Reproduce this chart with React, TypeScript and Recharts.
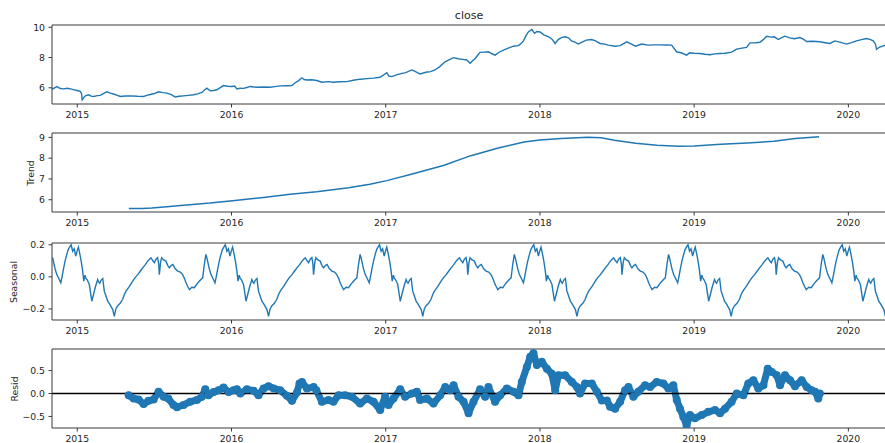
import React from 'react';
import { LineChart, Line, XAxis, YAxis, ReferenceLine } from 'recharts';

// x values are fractional years
const X_DOMAIN: [number, number] = [2014.836, 2020.244];
const yearTicks = [2015, 2016, 2017, 2018, 2019, 2020];

const closeDates = [
  2014.836, 2014.868, 2014.89, 2014.911, 2014.935, 2014.955, 2014.975, 2014.998, 2015.019, 2015.028,
  2015.032, 2015.042, 2015.052, 2015.073, 2015.09, 2015.106, 2015.13, 2015.149, 2015.17, 2015.192,
  2015.215, 2015.235, 2015.26, 2015.279, 2015.31, 2015.343, 2015.39, 2015.43, 2015.45, 2015.473,
  2015.5, 2015.527, 2015.555, 2015.581, 2015.61, 2015.635, 2015.66, 2015.689, 2015.72, 2015.754,
  2015.78, 2015.808, 2015.825, 2015.84, 2015.862, 2015.885, 2015.905, 2015.925, 2015.948, 2015.975,
  2016.002, 2016.02, 2016.035, 2016.055, 2016.078, 2016.1, 2016.121, 2016.145, 2016.165, 2016.21,
  2016.251, 2016.28, 2016.316, 2016.36, 2016.391, 2016.415, 2016.434, 2016.456, 2016.47, 2016.489,
  2016.52, 2016.553, 2016.586, 2016.629, 2016.66, 2016.7, 2016.748, 2016.79, 2016.834, 2016.88,
  2016.92, 2016.964, 2017.007, 2017.02, 2017.04, 2017.07, 2017.093, 2017.13, 2017.169, 2017.19,
  2017.205, 2017.223, 2017.26, 2017.29, 2017.32, 2017.35, 2017.385, 2017.41, 2017.439, 2017.47,
  2017.5, 2017.525, 2017.547, 2017.565, 2017.58, 2017.6, 2017.612, 2017.64, 2017.666, 2017.69,
  2017.709, 2017.735, 2017.763, 2017.795, 2017.828, 2017.86, 2017.875, 2017.893, 2017.91, 2017.925,
  2017.947, 2017.965, 2017.98, 2018.001, 2018.025, 2018.045, 2018.065, 2018.08, 2018.098, 2018.12,
  2018.14, 2018.163, 2018.185, 2018.205, 2018.23, 2018.249, 2018.27, 2018.3, 2018.335, 2018.36,
  2018.39, 2018.42, 2018.443, 2018.487, 2018.52, 2018.563, 2018.59, 2018.62, 2018.66, 2018.7,
  2018.74, 2018.778, 2018.82, 2018.854, 2018.886, 2018.92, 2018.951, 2018.97, 2019.0, 2019.038,
  2019.07, 2019.102, 2019.135, 2019.167, 2019.2, 2019.243, 2019.275, 2019.31, 2019.34, 2019.362,
  2019.4, 2019.426, 2019.45, 2019.47, 2019.5, 2019.52, 2019.545, 2019.565, 2019.588, 2019.62,
  2019.65, 2019.686, 2019.71, 2019.729, 2019.77, 2019.815, 2019.85, 2019.88, 2019.912, 2019.95,
  2019.988, 2020.02, 2020.053, 2020.085, 2020.118, 2020.14, 2020.161, 2020.175, 2020.183, 2020.2,
  2020.22, 2020.244,
];
const closeValues = [
  5.9, 6.08, 5.95, 5.93, 5.97, 5.93, 5.88, 5.82, 5.76, 5.6,
  5.21, 5.35, 5.47, 5.54, 5.45, 5.43, 5.48, 5.5, 5.62, 5.74,
  5.65, 5.59, 5.5, 5.43, 5.46, 5.47, 5.44, 5.43, 5.5, 5.56,
  5.62, 5.74, 5.68, 5.65, 5.55, 5.39, 5.44, 5.47, 5.5, 5.54,
  5.6, 5.69, 5.85, 5.98, 5.8, 5.82, 5.87, 6.0, 6.15, 6.1,
  6.09, 6.12, 5.93, 5.97, 5.96, 6.02, 6.09, 6.05, 6.04, 6.05,
  6.04, 6.08, 6.13, 6.14, 6.15, 6.35, 6.46, 6.66, 6.55, 6.52,
  6.53, 6.48, 6.37, 6.41, 6.37, 6.4, 6.41, 6.5, 6.57, 6.61,
  6.64, 6.7, 7.0, 6.78, 6.74, 6.85, 6.92, 7.0, 7.18, 7.08,
  7.0, 6.92, 7.03, 7.07, 7.18, 7.4, 7.72, 7.85, 7.99, 7.92,
  7.88, 7.84, 7.62, 7.8, 7.94, 8.2, 8.34, 8.36, 8.38, 8.25,
  8.16, 8.35, 8.49, 8.62, 8.75, 8.79, 8.9, 9.1, 9.45, 9.69,
  9.85, 9.6, 9.72, 9.69, 9.5, 9.41, 9.32, 9.2, 8.93, 9.2,
  9.32, 9.37, 9.3, 9.1, 9.0, 8.89, 9.0, 9.15, 9.19, 9.1,
  8.93, 8.89, 8.82, 8.75, 8.79, 9.04, 8.9, 8.75, 8.89, 8.82,
  8.84, 8.84, 8.83, 8.82, 8.38, 8.3, 8.16, 8.31, 8.28, 8.27,
  8.22, 8.18, 8.24, 8.27, 8.28, 8.36, 8.56, 8.62, 8.67, 8.97,
  8.98, 9.01, 9.2, 9.41, 9.35, 9.37, 9.19, 9.3, 9.41, 9.3,
  9.24, 9.32, 9.2, 9.06, 9.08, 9.04, 8.98, 8.93, 9.1, 9.0,
  8.89, 8.98, 9.1, 9.18, 9.26, 9.2, 9.1, 8.9, 8.54, 8.68,
  8.75, 8.84,
];

const trendDates = [
  2015.334, 2015.42, 2015.483, 2015.58, 2015.69, 2015.862, 2016.007, 2016.207, 2016.38, 2016.552,
  2016.759, 2016.897, 2017.007, 2017.172, 2017.379, 2017.552, 2017.724, 2017.897, 2018.0, 2018.138,
  2018.31, 2018.397, 2018.483, 2018.621, 2018.759, 2018.897, 2019.0, 2019.172, 2019.345, 2019.517,
  2019.655, 2019.81,
];
const trendValues = [
  5.58, 5.58, 5.6, 5.66, 5.74, 5.84, 5.95, 6.11, 6.26, 6.38,
  6.58, 6.74, 6.92, 7.24, 7.66, 8.12, 8.48, 8.78, 8.87, 8.95,
  9.0, 8.98, 8.86, 8.72, 8.62, 8.57, 8.59, 8.67, 8.73, 8.81,
  8.95, 9.03,
];

// one yearly cycle of the seasonal component, phase measured from its December peak
const seasonStart = 2014.96;
const seasonPhase = [
  0.0, 0.01, 0.02, 0.03, 0.04, 0.047, 0.055, 0.065, 0.075, 0.082,
  0.09, 0.095, 0.105, 0.118, 0.126, 0.134, 0.145, 0.158, 0.172, 0.18,
  0.185, 0.195, 0.205, 0.215, 0.226, 0.237, 0.25, 0.262, 0.27, 0.28,
  0.29, 0.302, 0.318, 0.334, 0.345, 0.356, 0.378, 0.399, 0.415, 0.432,
  0.448, 0.464, 0.48, 0.497, 0.508, 0.518, 0.53, 0.54, 0.55, 0.561,
  0.568, 0.572, 0.58, 0.587, 0.6, 0.615, 0.627, 0.637, 0.648, 0.66,
  0.675, 0.691, 0.708, 0.723, 0.735, 0.745, 0.756, 0.767, 0.783, 0.799,
  0.815, 0.831, 0.843, 0.853, 0.864, 0.874, 0.88, 0.885, 0.896, 0.907,
  0.92, 0.933, 0.941, 0.95, 0.961, 0.972, 0.981, 0.99,
];
const seasonValues = [
  0.2, 0.16, 0.175, 0.13, 0.165, 0.185, 0.15, 0.1, 0.036, -0.027,
  0.01, -0.006, -0.02, -0.048, -0.1, -0.152, -0.11, -0.06, -0.017, -0.035,
  -0.04, -0.02, -0.01, -0.089, -0.12, -0.152, -0.17, -0.19, -0.204, -0.246,
  -0.2, -0.18, -0.165, -0.14, -0.11, -0.089, -0.06, -0.027, -0.005, 0.014,
  0.035, 0.056, 0.075, 0.098, 0.11, 0.119, 0.1, 0.088, 0.11, 0.12,
  0.08, 0.014, 0.09, 0.119, 0.105, 0.098, 0.07, 0.056, 0.07, 0.077,
  0.05, 0.036, 0.03, 0.014, -0.01, -0.037, -0.06, -0.079, -0.065, -0.068,
  -0.045, -0.027, -0.015, -0.006, 0.08, 0.14, 0.12, 0.098, 0.05, 0.014,
  -0.01, -0.037, 0.0, 0.046, 0.1, 0.14, 0.17, 0.185,
];

const residDates = [
  2015.333, 2015.365, 2015.397, 2015.43, 2015.462, 2015.495, 2015.527, 2015.56, 2015.59, 2015.624,
  2015.646, 2015.689, 2015.732, 2015.776, 2015.808, 2015.83, 2015.851, 2015.884, 2015.916, 2015.948,
  2015.981, 2016.013, 2016.035, 2016.057, 2016.1, 2016.143, 2016.175, 2016.208, 2016.24, 2016.273,
  2016.316, 2016.359, 2016.392, 2016.424, 2016.441, 2016.457, 2016.489, 2016.532, 2016.55, 2016.586,
  2016.629, 2016.661, 2016.694, 2016.737, 2016.781, 2016.834, 2016.878, 2016.921, 2016.964, 2016.996,
  2017.018, 2017.05, 2017.094, 2017.126, 2017.169, 2017.202, 2017.223, 2017.267, 2017.31, 2017.353,
  2017.386, 2017.418, 2017.44, 2017.472, 2017.505, 2017.537, 2017.569, 2017.612, 2017.645, 2017.666,
  2017.709, 2017.742, 2017.785, 2017.828, 2017.861, 2017.882, 2017.915, 2017.937, 2017.958, 2017.98,
  2018.012, 2018.045, 2018.077, 2018.099, 2018.12, 2018.163, 2018.207, 2018.24, 2018.26, 2018.293,
  2018.336, 2018.369, 2018.401, 2018.434, 2018.455, 2018.487, 2018.52, 2018.552, 2018.574, 2018.606,
  2018.638, 2018.682, 2018.714, 2018.757, 2018.8, 2018.833, 2018.865, 2018.887, 2018.908, 2018.93,
  2018.951, 2018.973, 2019.005, 2019.049, 2019.092, 2019.135, 2019.168, 2019.2, 2019.243, 2019.276,
  2019.319, 2019.351, 2019.384, 2019.416, 2019.449, 2019.477, 2019.503, 2019.535, 2019.557, 2019.589,
  2019.622, 2019.654, 2019.697, 2019.73, 2019.762, 2019.784, 2019.805, 2019.815,
];
const residValues = [
  -0.04, -0.11, -0.13, -0.23, -0.16, -0.13, 0.04, -0.07, -0.11, -0.25,
  -0.3, -0.25, -0.18, -0.14, -0.07, 0.09, -0.04, 0.03, 0.07, 0.13,
  0.03, 0.07, 0.09, 0.0, 0.09, 0.06, -0.04, 0.11, 0.16, 0.11,
  0.07, -0.05, -0.16, 0.02, 0.22, 0.25, 0.11, 0.14, 0.07, -0.18,
  -0.14, -0.18, -0.04, -0.04, -0.07, -0.22, -0.11, -0.18, -0.36, -0.07,
  -0.25, -0.11, 0.09, -0.07, 0.0, 0.04, -0.14, -0.11, -0.22, -0.04,
  0.14, 0.07, 0.18, -0.07, -0.18, -0.43, -0.18, 0.09, -0.07, 0.14,
  -0.18, -0.04, 0.11, 0.04, -0.04, 0.25, 0.58, 0.8, 0.88, 0.62,
  0.69, 0.54, 0.43, 0.07, 0.4, 0.4, 0.25, 0.14, 0.0, 0.22,
  0.22, 0.04, -0.15, -0.15, -0.29, -0.33, -0.18, 0.07, 0.14, -0.07,
  0.04, 0.18, 0.14, 0.25, 0.22, 0.11, 0.18, -0.14, -0.33, -0.51,
  -0.69, -0.47, -0.54, -0.47, -0.4, -0.36, -0.43, -0.33, -0.18, 0.0,
  -0.04, 0.22, 0.29, 0.11, 0.18, 0.54, 0.47, 0.4, 0.18, 0.4,
  0.29, 0.16, 0.29, 0.14, 0.07, 0.04, -0.11, 0.0,
];

const closeData = closeDates.map((x, i) => ({ x, y: closeValues[i] }));
const trendData = trendDates.map((x, i) => ({ x, y: trendValues[i] }));
const residData = residDates.map((x, i) => ({ x, y: residValues[i] }));
const seasonalData: { x: number; y: number }[] = [];
for (let k = -1; k <= 5; k++) {
  seasonPhase.forEach((p, i) => {
    const x = seasonStart + k + p;
    if (x >= X_DOMAIN[0] && x <= X_DOMAIN[1] + 0.01) seasonalData.push({ x, y: seasonValues[i] });
  });
}

const BLUE = '#1f77b4';
const AXIS = '#3a3a3a';
const FONT = '"DejaVu Sans", sans-serif';
const tickStyle = { fill: '#262626', fontSize: 9.3, fontFamily: FONT };

const minus = (s: string) => s.replace('-', '\u2212');
const fmt0 = (v: number) => minus(String(v));
const fmt1 = (v: number) => minus(v.toFixed(1));

interface PanelProps {
  top: number;
  height: number;
  yDomain: [number, number];
  yTicks: number[];
  fmt: (v: number) => string;
  children: React.ReactNode;
}

function Panel({ top, height, yDomain, yTicks, fmt, children }: PanelProps) {
  return (
    <div style={{ position: 'absolute', left: 0, top }}>
      <LineChart width={900} height={height} margin={{ top: 25, right: 14, bottom: 0, left: 0 }}>
        <XAxis
          type="number"
          dataKey="x"
          domain={X_DOMAIN}
          ticks={yearTicks}
          interval={0}
          allowDataOverflow
          height={26}
          tick={tickStyle}
          tickSize={3.5}
          tickMargin={3.8}
          stroke={AXIS}
        />
        <YAxis
          type="number"
          dataKey="y"
          domain={yDomain}
          ticks={yTicks}
          interval={0}
          allowDataOverflow
          width={52}
          tick={tickStyle}
          tickSize={3.5}
          tickMargin={3.5}
          tickFormatter={fmt}
          stroke={AXIS}
        />
        {children}
        <ReferenceLine y={yDomain[1]} stroke={AXIS} />
        <ReferenceLine x={X_DOMAIN[1]} stroke={AXIS} />
      </LineChart>
    </div>
  );
}

const yLabel = (text: string, x: number, y: number) => (
  <div
    style={{
      position: 'absolute',
      left: x,
      top: y,
      transform: 'translate(-50%, -50%) rotate(-90deg)',
      fontFamily: FONT,
      fontSize: 9.3,
      color: '#262626',
      whiteSpace: 'nowrap',
    }}
  >
    {text}
  </div>
);

export default function App() {
  return (
    <div
      style={{
        position: 'absolute',
        left: 0,
        top: 0,
        width: 885,
        height: 443,
        overflow: 'hidden',
        background: '#fff',
      }}
    >
      <div
        style={{
          position: 'absolute',
          left: 469,
          top: 15,
          transform: 'translate(-50%, -50%)',
          fontFamily: FONT,
          fontSize: 11,
          color: '#262626',
        }}
      >
        close
      </div>

      {/* observed */}
      <Panel top={0} height={130} yDomain={[4.93, 10.15]} yTicks={[6, 8, 10]} fmt={fmt0}>
        <Line data={closeData} dataKey="y" type="linear" stroke={BLUE} strokeWidth={1.4} dot={false} isAnimationActive={false} />
      </Panel>

      {/* trend */}
      <Panel top={108} height={130} yDomain={[5.41, 9.21]} yTicks={[6, 7, 8, 9]} fmt={fmt0}>
        <Line data={trendData} dataKey="y" type="linear" stroke={BLUE} strokeWidth={1.5} dot={false} isAnimationActive={false} />
      </Panel>

      {/* seasonal */}
      <Panel top={218} height={128} yDomain={[-0.269, 0.211]} yTicks={[-0.2, 0, 0.2]} fmt={fmt1}>
        <Line data={seasonalData} dataKey="y" type="linear" stroke={BLUE} strokeWidth={1.4} dot={false} isAnimationActive={false} />
      </Panel>

      {/* residual */}
      <Panel top={324} height={130} yDomain={[-0.752, 0.97]} yTicks={[-0.5, 0, 0.5]} fmt={fmt1}>
        <Line
          data={residData}
          dataKey="y"
          type="linear"
          stroke={BLUE}
          strokeWidth={7}
          strokeLinejoin="round"
          strokeLinecap="round"
          dot={{ r: 4, fill: BLUE, stroke: 'none' }}
          isAnimationActive={false}
        />
        <ReferenceLine y={0} stroke="#000" strokeWidth={1.3} />
      </Panel>

      {yLabel('Trend', 30, 173)}
      {yLabel('Seasonal', 13, 282)}
      {yLabel('Resid', 14, 389)}
    </div>
  );
}
